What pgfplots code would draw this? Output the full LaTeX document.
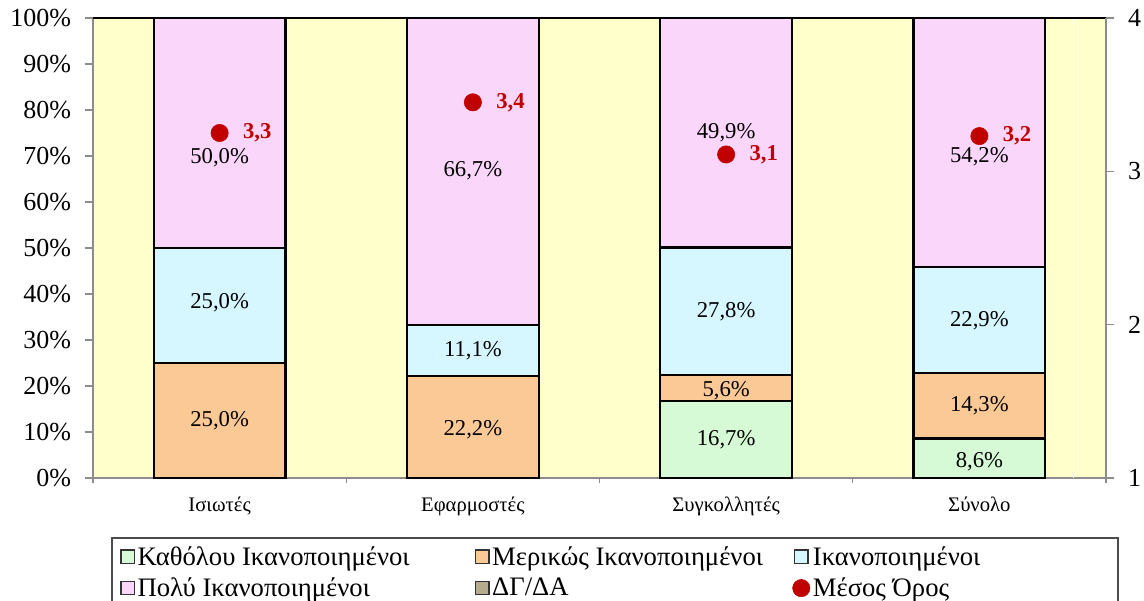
\documentclass[border=0pt]{standalone}
\usepackage{pgfplots}
\pgfplotsset{compat=1.18}
\usepackage{fontspec}
\setmainfont{Liberation Serif}
\definecolor{cgreen}{HTML}{D5FAD5}
\definecolor{corange}{HTML}{FAC996}
\definecolor{cblue}{HTML}{D6F7FF}
\definecolor{cpink}{HTML}{FAD7FA}
\definecolor{cdk}{HTML}{B4AC8C}
\definecolor{bg}{HTML}{FFFFCC}
\definecolor{mred}{HTML}{C00000}
\definecolor{axgray}{HTML}{8C8C8C}
\begin{document}
\begin{tikzpicture}
\path[use as bounding box] (-69.75pt,-91.5pt) rectangle (788.25pt,358.5pt);
\begin{axis}[
  at={(0,0)}, anchor=south west,
  scale only axis, width=759.75pt, height=345pt,
  xmin=-0.5, xmax=3.5, ymin=0, ymax=100,
  ybar stacked, bar width=0.52,
  axis background/.style={fill=bg},
  axis x line*=bottom, axis y line*=left,
  axis line style={axgray, line width=1.3pt},
  xtick={0,1,2,3},
  xticklabels={Ισιωτές,Εφαρμοστές,Συγκολλητές,Σύνολο},
  major x tick style={draw=none},
  minor xtick={-0.5,0.5,1.5,2.5,3.5},
  minor tick length=4pt,
  ytick={0,10,...,100},
  yticklabel={\pgfmathparse{int(\tick)}\pgfmathresult\%},
  tick style={axgray, line width=1pt},
  major tick length=6pt,
  tick align=outside,
  xticklabel style={font=\fontsize{15.5}{18}\selectfont, yshift=-5pt},
  yticklabel style={font=\fontsize{19.5}{22}\selectfont, xshift=-7pt},
  clip=false,
]
\addplot[fill=cgreen, draw=black, line width=1.6pt] coordinates {(0,0) (1,0) (2,16.7) (3,8.6)};
\addplot[fill=corange, draw=black, line width=1.6pt] coordinates {(0,25.0) (1,22.2) (2,5.6) (3,14.3)};
\addplot[fill=cblue, draw=black, line width=1.6pt] coordinates {(0,25.0) (1,11.1) (2,27.8) (3,22.9)};
\addplot[fill=cpink, draw=black, line width=1.6pt] coordinates {(0,50.0) (1,66.7) (2,49.9) (3,54.2)};
\addplot[fill=cdk, draw=black, line width=1.6pt] coordinates {(0,0) (1,0) (2,0) (3,0)};
\end{axis}
\begin{axis}[
  at={(0,0)}, anchor=south west,
  scale only axis, width=759.75pt, height=345pt,
  xmin=-0.5, xmax=3.5, ymin=0, ymax=100,
  hide y axis, axis x line=none,
  clip=false,
  nodes near coords, point meta=explicit symbolic,
  every node near coord/.append style={font=\fontsize{17}{20}\selectfont, anchor=center, text=black},
]
\addplot[only marks, mark=none] table[meta=lab] {
x y lab
0 12.5 25,0\%
0 38.0 25,0\%
0 69.6 50,0\%
1 10.6 22,2\%
1 27.7 11,1\%
1 66.7 66,7\%
2 8.3 16,7\%
2 19.0 5,6\%
2 36.1 27,8\%
2 75.0 49,9\%
3 3.6 8,6\%
3 15.7 14,3\%
3 34.2 22,9\%
3 69.8 54,2\%
};
\addplot[white, line width=0.8pt, no marks, nodes near coords={}] coordinates {(3.37,0) (3.37,100)};
\draw[black, line width=1.5pt] (rel axis cs:0,1) -- (rel axis cs:1,1);
\end{axis}
\begin{axis}[
  at={(0,0)}, anchor=south west,
  scale only axis, width=759.75pt, height=345pt,
  xmin=-0.5, xmax=3.5, ymin=1, ymax=4,
  axis x line=none, axis y line*=right,
  axis line style={axgray, line width=1.3pt},
  ytick={1,2,3,4}, yticklabels={1,2,3,4},
  tick style={axgray, line width=1pt},
  major tick length=6pt, tick align=outside,
  yticklabel style={font=\fontsize{19.5}{22}\selectfont, xshift=7pt},
  clip=false,
  legend columns=3,
  legend cell align=left,
  legend style={at={(rel axis cs:0.0188,-0.1304)}, anchor=north west,
    draw=none, fill=none, font=\fontsize{20}{23}\selectfont,
    inner xsep=6pt, inner ysep=5pt, row sep=6pt,
    nodes={inner xsep=2pt, inner ysep=1pt},
    /tikz/column 2/.style={column sep=47pt},
    /tikz/column 4/.style={column sep=20pt}},
]
\addlegendimage{legend image code/.code={\draw[fill=cgreen, draw=black!80, line width=1pt] (0pt,-5pt) rectangle (10pt,5pt);}}
\addlegendentry{Καθόλου Ικανοποιημένοι}
\addlegendimage{legend image code/.code={\draw[fill=corange, draw=black!80, line width=1pt] (0pt,-5pt) rectangle (10pt,5pt);}}
\addlegendentry{Μερικώς Ικανοποιημένοι}
\addlegendimage{legend image code/.code={\draw[fill=cblue, draw=black!80, line width=1pt] (0pt,-5pt) rectangle (10pt,5pt);}}
\addlegendentry{Ικανοποιημένοι}
\addlegendimage{legend image code/.code={\draw[fill=cpink, draw=black!80, line width=1pt] (0pt,-5pt) rectangle (10pt,5pt);}}
\addlegendentry{Πολύ Ικανοποιημένοι}
\addlegendimage{legend image code/.code={\draw[fill=cdk, draw=black!80, line width=1pt] (0pt,-5pt) rectangle (10pt,5pt);}}
\addlegendentry{ΔΓ/ΔΑ}
\addplot[only marks, mark=*, mark size=6.5pt, mark options={fill=mred, draw=mred},
  nodes near coords, point meta=explicit symbolic,
  every node near coord/.append style={font=\bfseries\fontsize{17}{20}\selectfont, text=mred, anchor=west, xshift=14pt, yshift=0pt},
  legend image code/.code={\fill[mred] (5pt,0pt) circle (6.5pt);}]
  table[meta=lab] {
x y lab
0 3.25 3,3
1 3.45 3,4
2 3.11 3,1
3 3.23 3,2
};
\addlegendentry{Μέσος Όρος}
\end{axis}
\draw[black!70, line width=0.8pt] (14.25pt,-45pt) rectangle (768.75pt,-97pt);
\end{tikzpicture}
\end{document}
